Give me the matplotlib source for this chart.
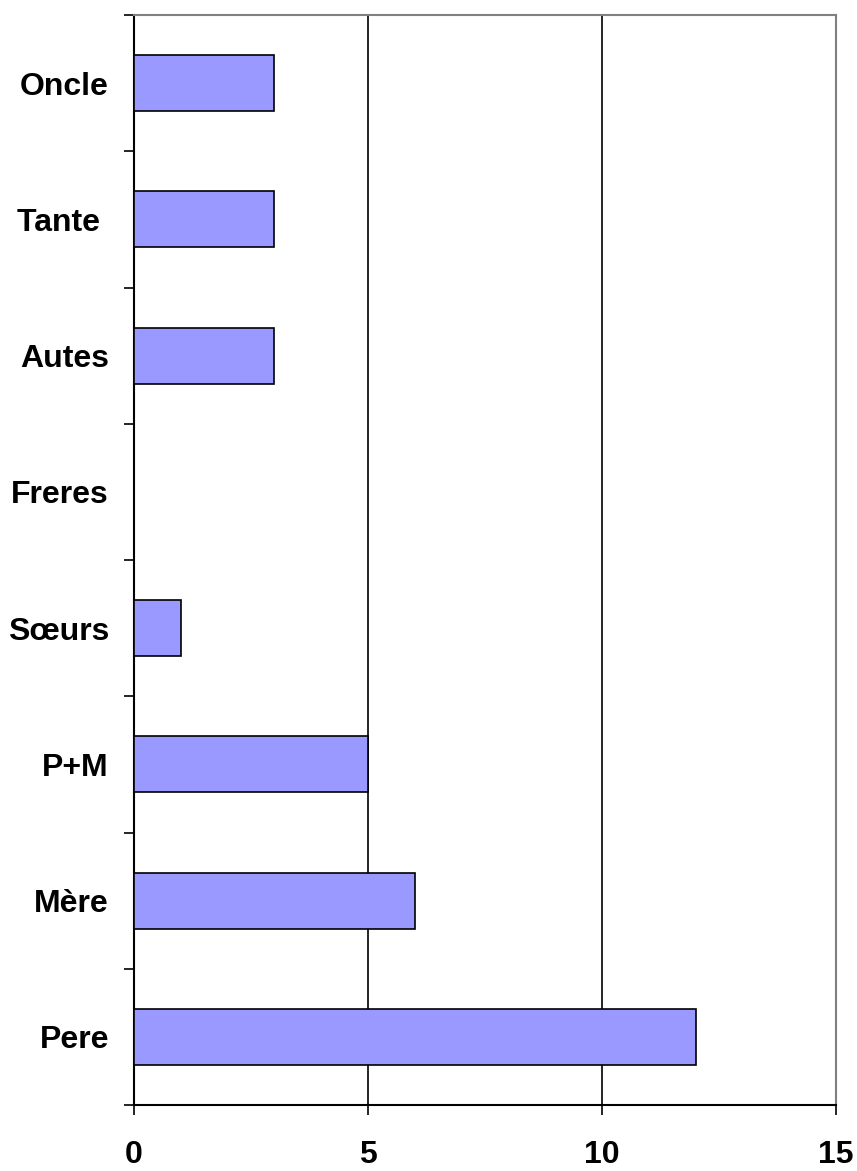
import matplotlib
matplotlib.use("Agg")
import matplotlib.pyplot as plt
import numpy as np

categories = ["Pere", "Mère", "P+M", "Sœurs", "Freres", "Autes", "Tante ", "Oncle"]
values = [12, 6, 5, 1, 0, 3, 3, 3]
xticks = [0, 5, 10, 15]

plt.rcParams['font.family'] = ['Liberation Sans', 'DejaVu Sans']

fig = plt.figure(figsize=(8.57, 11.71), dpi=100)
ax = fig.add_axes([134/857, 1 - 1105/1171, (836-134)/857, (1105-15)/1171])

y = np.arange(len(categories))
ax.barh(y, values, height=0.41, color="#9999FF", edgecolor="black", linewidth=1.2, zorder=3)

ax.set_xlim(0, 15)
ax.set_ylim(-0.5, len(categories) - 0.5)
ax.set_xticks(xticks)
ax.set_xticklabels([str(v) for v in xticks], fontsize=23, fontweight="bold")
ax.set_yticks(y)
ax.set_yticklabels(categories, fontsize=23, fontweight="bold")
ax.set_yticks(np.arange(-0.5, len(categories), 1.0), minor=True)

ax.tick_params(axis="y", which="major", length=0, pad=18)
ax.tick_params(axis="y", which="minor", length=7.5, width=1.2, color="black")
ax.tick_params(axis="x", which="major", length=7.5, width=1.2, pad=18, color="black")

for xv in xticks[1:-1]:
    ax.axvline(xv, color="black", linewidth=1.2, zorder=1)

ax.spines["left"].set_linewidth(1.5)
ax.spines["bottom"].set_linewidth(1.5)
ax.spines["top"].set_color("#808080")
ax.spines["right"].set_color("#808080")
ax.spines["top"].set_linewidth(1.5)
ax.spines["right"].set_linewidth(1.5)

fig.savefig("out.png", dpi=100)
